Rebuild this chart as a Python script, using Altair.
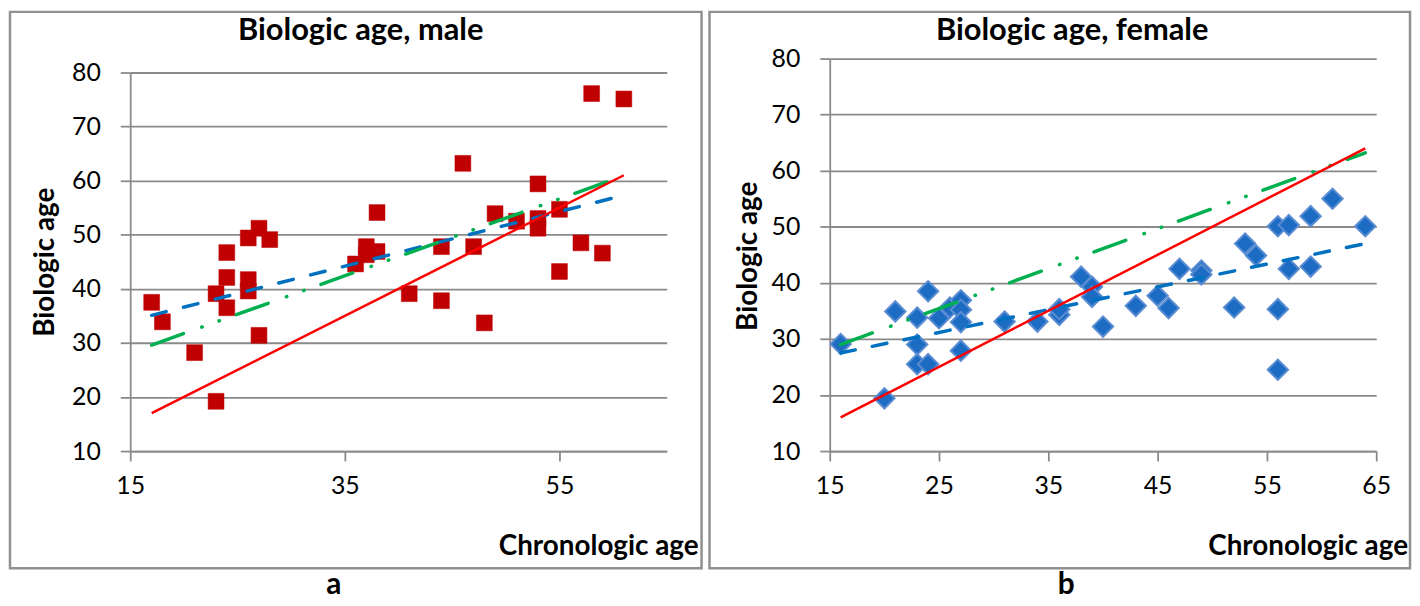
import altair as alt
import pandas as pd

# ---------------- data ----------------
male_x = [17, 18, 21, 23, 23, 24, 24, 24, 26, 26, 26, 27, 28, 27, 36, 37, 37, 38, 38, 41,
          44, 44, 46, 47, 48, 49, 51, 53, 53, 53, 55, 55, 57, 59, 58, 61]
male_y = [37.5, 33.9, 28.2, 19.2, 39.1, 46.7, 42.1, 36.5, 49.4, 41.7, 39.6, 51.2, 49.1, 31.4,
          44.6, 47.8, 46.3, 46.9, 54.1, 39.1, 37.8, 47.8, 63.2, 47.8, 33.7, 53.9, 52.5, 59.4,
          53.0, 51.2, 54.7, 43.2, 48.5, 46.6, 76.1, 75.1]

female_x = [16, 20, 21, 23, 23, 23, 24, 24, 25, 26, 27, 27, 27, 27, 31, 34, 36, 36, 38, 39,
            39, 40, 43, 45, 46, 47, 49, 49, 52, 53, 54, 56, 56, 56, 57, 57, 59, 59, 61, 64]
female_y = [29.1, 19.4, 34.9, 33.8, 29.0, 25.5, 38.5, 25.5, 33.7, 35.6, 36.9, 35.2, 33.0, 27.9,
            33.1, 33.1, 34.3, 35.3, 41.1, 39.3, 37.5, 32.2, 35.9, 37.7, 35.5, 42.5, 42.2, 41.5,
            35.6, 47.0, 44.9, 50.1, 35.3, 24.5, 50.3, 42.5, 51.9, 42.9, 55.0, 50.1]

# trend lines (end points)
male_fit_x = [17, 61]
male_identity_y = [17, 61]
male_blue_y = [35.1, 57.3]
male_green_y = [29.6, 60.9]

female_fit_x = [16, 64]
female_identity_y = [16, 64]
female_blue_y = [27.5, 47.0]
female_green_y = [29.0, 63.2]

y_ticks = [10, 20, 30, 40, 50, 60, 70, 80]
male_x_ticks = [15, 35, 55]
female_x_ticks = [15, 25, 35, 45, 55, 65]

FONT = "Lato"
GRID = "#8a8a8a"
FRAME = "#909090"


def txt(text, x, y, size, angle=0, align="center"):
    return alt.Chart(pd.DataFrame({"t": [text]})).mark_text(
        font=FONT, fontWeight="bold", fontSize=size, angle=angle, align=align,
        baseline="middle", color="black"
    ).encode(text="t:N", x=alt.value(x), y=alt.value(y))


def frame(x1, x2, y1, y2):
    return alt.Chart(pd.DataFrame({"f": [0]})).mark_rect(
        fillOpacity=0, stroke=FRAME, strokeWidth=2.5
    ).encode(x=alt.value(x1), x2=alt.value(x2), y=alt.value(y1), y2=alt.value(y2))


def panel(px, py, fx, f_id, f_blue, f_green, xticks, yrange, width, title, letter,
          point_mark, frame_x, title_x, ytitle_x, ytitle_y, letter_x, blue_dash, xtitle_x):
    pts = pd.DataFrame({"x": px, "y": py})
    fits = pd.DataFrame({"x": fx, "id": f_id, "blue": f_blue, "green": f_green})

    xs = alt.Scale(domain=[15, 65], nice=False, zero=False)
    ys = alt.Scale(domain=[10, 80], nice=False, zero=False, range=yrange)
    xax = alt.Axis(values=xticks, grid=False, title=None, labelPadding=13, labelFlush=False)
    yax = alt.Axis(values=y_ticks, grid=True, title=None, labelPadding=20, labelFlush=False)

    X = alt.X("x:Q", scale=xs, axis=xax)

    points = alt.Chart(pts).mark_point(**point_mark).encode(
        x=X, y=alt.Y("y:Q", scale=ys, axis=yax))
    base = alt.Chart(fits)
    blue = base.mark_line(color="#0070C0", strokeWidth=3.5, strokeDash=blue_dash,
                          strokeCap="round").encode(
        x=X, y=alt.Y("blue:Q", scale=ys, axis=yax))
    green = base.mark_line(color="#00B050", strokeWidth=3.5,
                           strokeDash=[34, 19.5, 0.5, 18, 0.5, 18],
                           strokeCap="round").encode(
        x=X, y=alt.Y("green:Q", scale=ys, axis=yax))
    red = base.mark_line(color="#FF0000", strokeWidth=2.5).encode(
        x=X, y=alt.Y("id:Q", scale=ys, axis=yax))

    return alt.layer(
        frame(frame_x[0], frame_x[1], -47, 513),
        txt(title, title_x, -28, 31),
        txt("Biologic age", ytitle_x, ytitle_y, 28, angle=270),
        txt("Chronologic age", xtitle_x, 492, 28, align="right"),
        txt(letter, letter_x, 530, 30),
        points, blue, green, red,
    ).properties(width=width, height=395)


left = panel(
    male_x, male_y, male_fit_x, male_identity_y, male_blue_y, male_green_y,
    male_x_ticks, [395, 14], 540, "Biologic age, male", "a",
    dict(shape="square", filled=True, size=256, fill="#C00000", stroke="#C00000",
         strokeWidth=0.5, opacity=1),
    (-121, 575), 232, -85, 205, 205, [15, 18], 572)

right = panel(
    female_x, female_y, female_fit_x, female_identity_y, female_blue_y, female_green_y,
    female_x_ticks, [395, 0], 550, "Biologic age, female", "b",
    dict(shape="diamond", filled=True, size=420, fill="#1C6CC4", stroke="#5A8CD2",
         strokeWidth=2, opacity=1),
    (-121, 584), 244, -81, 199, 238, [15, 17.5], 582)

chart = alt.hconcat(left, right, spacing=164, bounds="flush").properties(
    padding=0
).configure_view(stroke=None).configure_axis(
    gridColor=GRID, gridWidth=1.8, domainColor=GRID, domainWidth=1.8,
    tickColor=GRID, tickWidth=1.8, tickSize=10,
    labelFont=FONT, labelFontSize=25, labelColor="black",
)

chart.save("out.html", embed_options={"renderer": "svg", "actions": False})
